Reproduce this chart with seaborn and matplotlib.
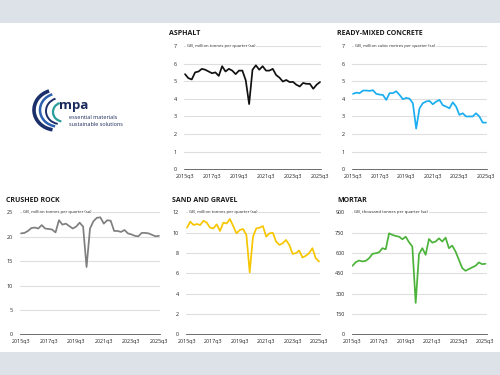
import matplotlib
matplotlib.use("Agg")
import matplotlib.pyplot as plt
import seaborn as sns
import numpy as np
import pandas as pd
from matplotlib.patches import Rectangle, Arc

# ---------------- data ----------------
quarters = [f"{y}q{q}" for y in range(2015, 2026) for q in range(1, 5)][2:43]  # 2015q3..2025q3
tick_labels = ["2015q3", "2017q3", "2019q3", "2021q3", "2023q3", "2025q3"]

asphalt = [5.4, 5.17, 5.1, 5.5, 5.55, 5.7, 5.65, 5.55, 5.45, 5.5, 5.3, 5.85, 5.55, 5.7,
           5.6, 5.4, 5.6, 5.6, 5.05, 3.7, 5.65, 5.9, 5.65, 5.85, 5.6, 5.6, 5.7, 5.35,
           5.2, 4.98, 5.07, 4.95, 4.96, 4.8, 4.7, 4.9, 4.85, 4.85, 4.57, 4.8, 4.95]
ready_mixed = [4.28, 4.35, 4.32, 4.47, 4.47, 4.45, 4.49, 4.28, 4.24, 4.22, 3.94, 4.32,
               4.32, 4.43, 4.22, 3.98, 4.05, 4.01, 3.75, 2.31, 3.46, 3.75, 3.85, 3.88,
               3.69, 3.84, 3.94, 3.64, 3.56, 3.46, 3.8, 3.56, 3.09, 3.18, 3.0, 3.0, 3.0,
               3.18, 3.0, 2.65, 2.65]
crushed_rock = [20.7, 20.8, 21.2, 21.8, 21.9, 21.7, 22.4, 21.7, 21.6, 21.5, 20.9, 23.4,
                22.5, 22.7, 22.2, 21.7, 22.1, 22.9, 22.1, 13.8, 21.7, 23.2, 23.9, 24.0,
                22.7, 23.4, 23.3, 21.2, 21.2, 21.0, 21.4, 20.7, 20.5, 20.2, 20.1, 20.8,
                20.8, 20.7, 20.4, 20.1, 20.2]
sand_gravel = [10.5, 11.09, 10.76, 10.86, 10.76, 11.18, 10.99, 10.5, 10.43, 10.83, 10.17,
               10.99, 10.92, 11.35, 10.66, 9.94, 10.27, 10.37, 9.78, 6.1, 9.62, 10.43,
               10.5, 10.66, 9.62, 9.94, 10.0, 9.13, 8.8, 8.97, 9.29, 8.8, 7.92, 7.99,
               8.25, 7.56, 7.73, 7.99, 8.48, 7.5, 7.17]
mortar = [506, 533, 545, 538, 543, 562, 594, 599, 606, 636, 628, 746, 734, 726, 721, 702,
          721, 680, 648, 232, 592, 636, 587, 704, 677, 685, 709, 685, 714, 636, 655, 611,
          550, 489, 469, 482, 494, 506, 531, 518, 521]

panels = [
    # title, subtitle, values, color, ymax, ystep, [left, bottom, width, height]
    ("ASPHALT", "GB, million tonnes per quarter (sa)", asphalt, "#111111", 7, 1,
     [0.368, 0.5485, 0.274, 0.329]),
    ("READY-MIXED CONCRETE", "GB, million cubic metres per quarter (sa)", ready_mixed,
     "#1aaef0", 7, 1, [0.704, 0.5485, 0.270, 0.329]),
    ("CRUSHED ROCK", "GB, million tonnes per quarter (sa)", crushed_rock, "#7f7f7f", 25, 5,
     [0.040, 0.1085, 0.280, 0.325]),
    ("SAND AND GRAVEL", "GB, million tonnes per quarter (sa)", sand_gravel, "#f7c600", 12, 2,
     [0.372, 0.1085, 0.268, 0.325]),
    ("MORTAR", "GB, thousand tonnes per quarter (sa)", mortar, "#4cb33a", 900, 150,
     [0.703, 0.1085, 0.270, 0.325]),
]

sns.set_style("white")
plt.rcParams["font.family"] = ["Open Sans", "DejaVu Sans"]

fig = plt.figure(figsize=(5, 3.75), dpi=100)
fig.patch.set_facecolor("white")
band = "#dce2e8"
fig.patches.append(Rectangle((0, 1 - 22.5 / 375), 1, 22.5 / 375, transform=fig.transFigure,
                             facecolor=band, edgecolor="none", zorder=0))
fig.patches.append(Rectangle((0, 0), 1, 23.5 / 375, transform=fig.transFigure,
                             facecolor=band, edgecolor="none", zorder=0))

label_idx = [quarters.index(t) for t in tick_labels]

for title, sub, vals, col, ymax, ystep, rect in panels:
    ax = fig.add_axes(rect)
    df = pd.DataFrame({"x": np.arange(len(quarters)), "v": vals})
    sns.lineplot(data=df, x="x", y="v", ax=ax, color=col, linewidth=1.25)
    ax.set_xlim(-0.3, len(quarters) - 0.7)
    ax.set_ylim(0, ymax)
    yt = np.arange(0, ymax + ystep / 2, ystep)
    ax.set_yticks(yt)
    ax.set_yticklabels([f"{int(v)}" for v in yt], fontsize=3.9, color="#222222")
    ax.set_xticks(label_idx)
    ax.set_xticklabels(tick_labels, fontsize=3.9, color="#222222")
    ax.set_xticks(np.arange(0, len(quarters), 2), minor=True)
    ax.tick_params(axis="y", length=0, pad=5)
    ax.tick_params(axis="x", which="both", length=1.5, width=0.4, color="#555555", pad=2,
                   direction="out")
    ax.set_xlabel("")
    ax.set_ylabel("")
    for s in ["top", "right", "left"]:
        ax.spines[s].set_visible(False)
    ax.spines["bottom"].set_color("#555555")
    ax.spines["bottom"].set_linewidth(0.6)
    for v in yt[1:]:
        ax.axhline(v, color="#dedede", linewidth=0.8, zorder=0)
    ax.set_facecolor("white")
    # title
    fig.text(rect[0] - 0.029, rect[1] + rect[3] + 0.033, title, fontsize=5.0,
             fontweight="bold", color="#1a1a1a", ha="left", va="center")
    ax.text(0.02, 1.0, sub, transform=ax.transAxes, fontsize=3.1, color="#222222",
            ha="left", va="center",
            bbox=dict(facecolor="white", edgecolor="none", pad=0.6))

# logo (drawn in pixel-like coordinates)
lax = fig.add_axes([0.06, 1 - 135 / 375, 0.24, 55 / 375])
lax.set_xlim(30, 150)
lax.set_ylim(135, 80)
lax.axis("off")
arcs = [((56, 110), 44, 40, "#1b2f6b", 2.6),
        ((58, 110), 36, 33, "#2d5fb0", 1.8),
        ((60, 111), 28, 26, "#1b2f6b", 1.4),
        ((63, 112), 20, 19, "#2a9d9a", 1.6)]
for (cx, cy), w, h, c, lw in arcs:
    lax.add_patch(Arc((cx, cy), w, h, theta1=100, theta2=250, color=c, linewidth=lw))
lax.text(59, 106, "mpa", fontsize=9.5, fontweight="bold", color="#1b2a5c", ha="left",
         va="center")
lax.text(69, 117.5, "essential materials", fontsize=4.0, color="#1b2a5c", ha="left",
         va="center")
lax.text(69, 124.5, "sustainable solutions", fontsize=4.0, color="#1b2a5c", ha="left",
         va="center")

fig.savefig("out.png", dpi=100, facecolor="white")
